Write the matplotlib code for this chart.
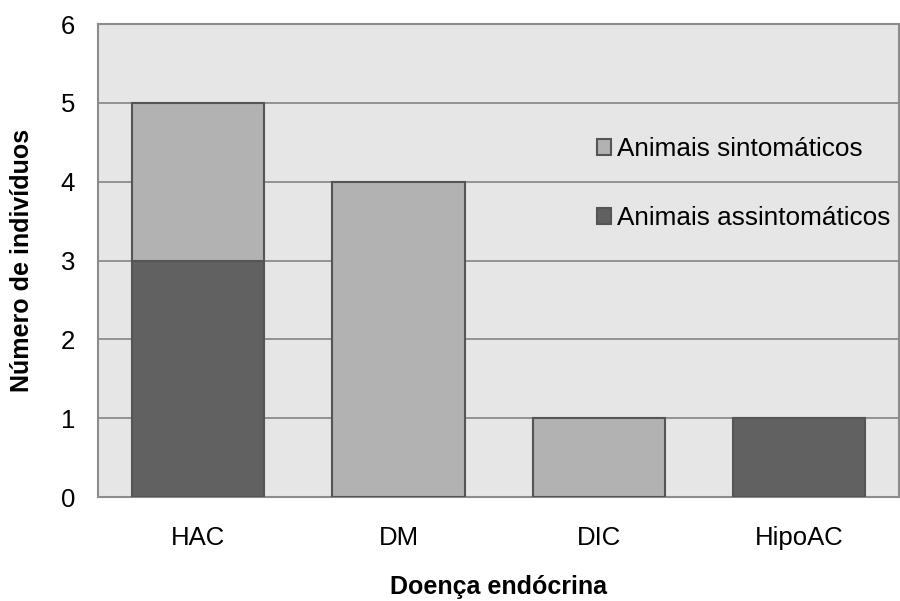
import numpy as np
import matplotlib.pyplot as plt

plt.rcParams['font.family'] = ['Liberation Sans', 'DejaVu Sans']

categories = ['HAC', 'DM', 'DIC', 'HipoAC']
assintomaticos = [3, 0, 0, 1]
sintomaticos = [2, 4, 1, 0]

dark = '#616161'
light = '#b2b2b2'
edge = '#555555'

fig = plt.figure(figsize=(9, 6.01), dpi=100)
ax = fig.add_axes([0.109, 0.173, 0.89, 0.787])
ax.set_facecolor('#e6e6e6')

x = np.arange(len(categories))
ax.bar(x, assintomaticos, 0.66, color=dark, edgecolor=edge, linewidth=1.5,
       label='Animais assintomáticos', zorder=3)
ax.bar(x, sintomaticos, 0.66, bottom=assintomaticos, color=light, edgecolor=edge,
       linewidth=1.5, label='Animais sintomáticos', zorder=3)

ax.set_xlim(-0.5, 3.5)
ax.set_ylim(0, 6)
ax.set_yticks(range(0, 7))
ax.set_xticks(x)
ax.set_xticklabels(categories)
ax.tick_params(axis='both', length=0, labelsize=18.5, colors='black')
ax.tick_params(axis='x', pad=21)
ax.tick_params(axis='y', pad=16.5)
ax.yaxis.grid(True, color='#8c8c8c', linewidth=1.3)
ax.set_axisbelow(True)
for s in ax.spines.values():
    s.set_color('#8c8c8c')
    s.set_linewidth(1.5)

ax.set_xlabel('Doença endócrina', fontsize=18, fontweight='bold', labelpad=18)
ax.set_ylabel('Número de indivíduos', fontsize=18, fontweight='bold', labelpad=19)

handles, labels = ax.get_legend_handles_labels()
ax.legend(handles[::-1], labels[::-1], loc='upper left',
          bbox_to_anchor=(597 / 900, 1 - 137 / 601), bbox_transform=fig.transFigure,
          frameon=False, fontsize=18.8, handlelength=0.55, handleheight=0.55,
          handletextpad=0.2, labelspacing=1.72, borderpad=0, borderaxespad=0)

plt.savefig('out.png', dpi=100)
